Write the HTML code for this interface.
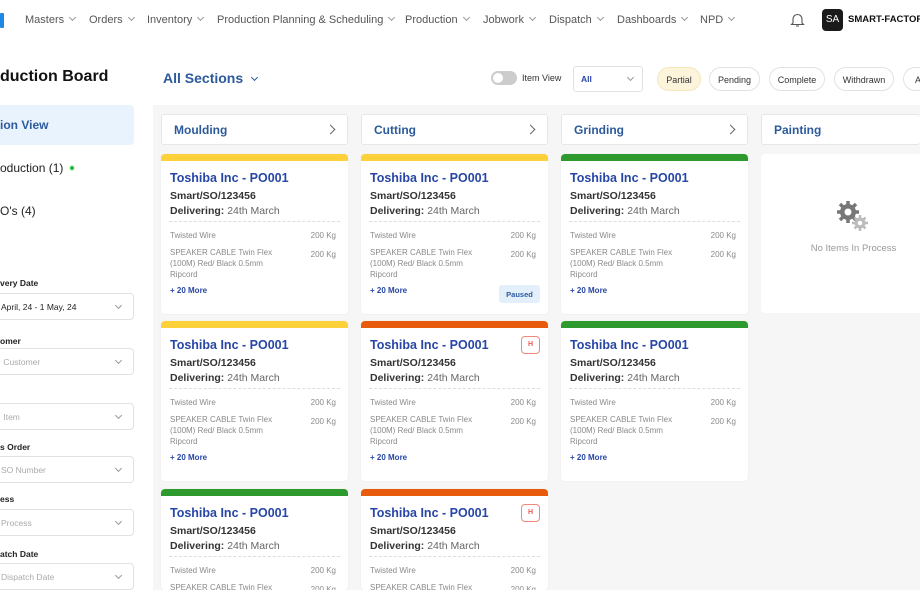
<!DOCTYPE html>
<html><head><meta charset="utf-8">
<style>
*{box-sizing:border-box;margin:0;padding:0}
html{width:920px;height:590px;overflow:hidden}
body{width:920px;height:590px;overflow:hidden;background:#fff;font-family:"Liberation Sans",sans-serif;position:relative;color:#222}
.a{position:absolute;white-space:nowrap}
.nav{font-size:11px;color:#555;top:14px}
.chev{display:inline-block;width:5px;height:5px;border-right:1px solid #999;border-bottom:1px solid #999;transform:rotate(45deg);margin-left:6px;position:relative;top:-3px}
.lbl{font-size:8.5px;font-weight:bold;color:#222;left:0}
.sel{left:-10px;width:144px;height:27px;border:1px solid #e2e2e2;border-radius:4px;font-size:8.5px;color:#aaa;padding:8px 0 0 10px}
.sel .chev{position:absolute;right:12px;top:9px}
.board{left:153px;top:105px;width:767px;height:485px;background:#f6f6f6}
.colh{top:114px;width:187px;height:31px;background:#fff;border:1px solid #e6e6e6;border-radius:3px;font-size:12px;font-weight:bold;color:#2c5a9c;padding:8px 0 0 12px}
.arr{position:absolute;right:13px;top:11px;width:7px;height:7px;border-right:1.3px solid #666;border-top:1.3px solid #666;transform:rotate(45deg)}
.card{width:187px;height:160px;background:#fff;border-radius:4px;overflow:hidden;box-shadow:0 0 1px #ddd}
.bar{height:7px}
.t{position:absolute;left:9px;top:17px;font-size:12.5px;font-weight:bold;color:#2746a6}
.s{position:absolute;left:9px;font-size:10.5px;font-weight:bold;color:#333}
.s span{font-weight:normal;color:#666}
.dash{position:absolute;left:8px;right:8px;top:67px;border-top:1px dashed #ddd}
.g{position:absolute;left:9px;font-size:8px;color:#8a8a8a;line-height:11px}
.kg{position:absolute;right:12px;font-size:8px;color:#8a8a8a}
.more{position:absolute;left:9px;top:132px;font-size:8px;font-weight:bold;color:#2746a6}
.pill{top:67px;height:24px;border:1px solid #e2e2e2;border-radius:12px;font-size:9px;color:#333;text-align:center;padding-top:7px}
</style></head><body>
<div class="a" style="left:0;top:13px;width:4px;height:15px;background:#1e88e5;border-radius:1px"></div>
<div class="a nav" style="left:25px">Masters<i class="chev"></i></div>
<div class="a nav" style="left:89px">Orders<i class="chev"></i></div>
<div class="a nav" style="left:147px">Inventory<i class="chev"></i></div>
<div class="a nav" style="left:217px">Production Planning &amp; Scheduling<i class="chev"></i></div>
<div class="a nav" style="left:405px">Production<i class="chev"></i></div>
<div class="a nav" style="left:483px">Jobwork<i class="chev"></i></div>
<div class="a nav" style="left:549px">Dispatch<i class="chev"></i></div>
<div class="a nav" style="left:617px">Dashboards<i class="chev"></i></div>
<div class="a nav" style="left:700px">NPD<i class="chev"></i></div>
<svg class="a" style="left:790px;top:12px" width="15" height="16" viewBox="0 0 15 16"><path d="M3 11V7a4.5 4.5 0 0 1 9 0v4l1.5 1.5h-12z" fill="none" stroke="#555" stroke-width="1.1"/><path d="M6 14h3" stroke="#555"/></svg>
<div class="a" style="left:822px;top:9px;width:21px;height:22px;background:#1a1a1a;border-radius:4px;color:#fff;font-size:10px;text-align:center;padding-top:5px">SA</div>
<div class="a" style="left:848px;top:14px;font-size:9.5px;font-weight:bold;color:#111">SMART-FACTORY</div>

<div class="a" style="left:0;top:68px;font-size:16px;font-weight:bold;color:#111">duction Board</div>
<div class="a" style="left:-10px;top:105px;width:144px;height:40px;background:#e8f3fd;border-radius:4px"></div>
<div class="a" style="left:0;top:118px;font-size:12px;font-weight:bold;color:#2c5a9c">ion View</div>
<div class="a" style="left:0;top:161px;font-size:12px;color:#222">oduction (1)</div>
<div class="a" style="left:70px;top:166px;width:4px;height:4px;border-radius:2px;background:#22bb44;box-shadow:0 0 3px #9e9"></div>
<div class="a" style="left:0;top:204px;font-size:12px;color:#222">O's (4)</div>

<div class="a lbl" style="top:278px">very Date</div>
<div class="a sel" style="top:293px;color:#222">April, 24 - 1 May, 24<i class="chev"></i></div>
<div class="a lbl" style="top:336px">omer</div>
<div class="a sel" style="top:348px">&nbsp;Customer<i class="chev"></i></div>
<div class="a sel" style="top:403px">&nbsp;Item<i class="chev"></i></div>
<div class="a lbl" style="top:442px">s Order</div>
<div class="a sel" style="top:456px">SO Number<i class="chev"></i></div>
<div class="a lbl" style="top:494px">ess</div>
<div class="a sel" style="top:509px">Process<i class="chev"></i></div>
<div class="a lbl" style="top:549px">atch Date</div>
<div class="a sel" style="top:563px">Dispatch Date<i class="chev"></i></div>

<div class="a" style="left:163px;top:70px;font-size:14px;font-weight:bold;color:#2c5a9c">All Sections<i class="chev" style="border-color:#2c5a9c;margin-left:9px"></i></div>
<div class="a" style="left:491px;top:71px;width:26px;height:14px;border-radius:7px;background:#ccc"></div>
<div class="a" style="left:493px;top:73px;width:10px;height:10px;border-radius:5px;background:#fff"></div>
<div class="a" style="left:522px;top:73px;font-size:9px;color:#333">Item View</div>
<div class="a" style="left:573px;top:66px;width:70px;height:26px;border:1px solid #e2e2e2;border-radius:3px;font-size:8.5px;font-weight:bold;color:#2746a6;padding:7px 0 0 7px">All<i class="chev" style="position:absolute;right:9px;top:8px"></i></div>
<div class="a pill" style="left:657px;width:44px;background:#fdf4dc;border-color:#f5e6bb">Partial</div>
<div class="a pill" style="left:709px;width:51px">Pending</div>
<div class="a pill" style="left:769px;width:56px">Complete</div>
<div class="a pill" style="left:834px;width:60px">Withdrawn</div>
<div class="a pill" style="left:903px;width:17px;text-align:left;padding-left:11px;border-right:none;border-radius:12px 0 0 12px">A</div>

<div class="a board"></div>
<div class="a colh" style="left:161px">Moulding<i class="arr"></i></div>
<div class="a colh" style="left:361px">Cutting<i class="arr"></i></div>
<div class="a colh" style="left:561px">Grinding<i class="arr"></i></div>
<div class="a colh" style="left:761px;width:159px;border-right:none">Painting</div>

<div class="a" style="left:761px;top:154px;width:159px;height:159px;background:#fff;border-radius:4px 0 0 4px"></div>
<svg class="a" style="left:836px;top:200px" width="34" height="34" viewBox="0 0 34 34">
<g fill="#777"><circle cx="12" cy="12" r="8"/><g stroke="#777" stroke-width="3.5"><path d="M12 1v22M1 12h22M4 4l16 16M20 4L4 20"/></g></g><circle cx="12" cy="12" r="3.5" fill="#fff"/>
<g fill="#bbb"><circle cx="24" cy="23" r="5.5"/><g stroke="#bbb" stroke-width="2.5"><path d="M24 15v16M16 23h16M18.5 17.5l11 11M29.5 17.5l-11 11"/></g></g><circle cx="24" cy="23" r="2.3" fill="#fff"/></svg>
<div class="a" style="left:761px;top:243px;width:185px;text-align:center;font-size:9.5px;color:#999">No Items In Process</div>

<div id="cards"></div>
<script>
var cols=[[161,['#fdd13a','#fdd13a','#2e9a2e']],[361,['#fdd13a','#e85a0c','#e85a0c']],[561,['#2e9a2e','#2e9a2e']]];
var tops=[154,321,489],h='';
cols.forEach(function(c,ci){c[1].forEach(function(col,ri){
var extra='';
if(ci==1&&ri==0)extra='<div class="a" style="left:138px;top:131px;width:41px;height:18px;background:#e3f0fb;border-radius:3px;font-size:7.5px;font-weight:bold;color:#2c5a9c;text-align:center;padding-top:5px">Paused</div>';
if(ci==1&&ri>0)extra='<div class="a" style="left:160px;top:15px;width:19px;height:18px;border:1px solid #f08878;border-radius:4px;font-size:7px;font-weight:bold;color:#e55;text-align:center;padding-top:4px">H</div>';
var hh=ri==2?101:160;
h+='<div class="a card" style="left:'+c[0]+'px;top:'+tops[ri]+'px;height:'+hh+'px"><div class="bar" style="background:'+col+'"></div>'+
'<div class="t">Toshiba Inc - PO001</div><div class="s" style="top:36px">Smart/SO/123456</div>'+
'<div class="s" style="top:51px">Delivering: <span>24th March</span></div><div class="dash"></div>'+
'<div class="g" style="top:76px">Twisted Wire</div><div class="kg" style="top:77px">200 Kg</div>'+
'<div class="g" style="top:93px">SPEAKER CABLE Twin Flex<br>(100M) Red/ Black 0.5mm<br>Ripcord</div><div class="kg" style="top:96px">200 Kg</div>'+
'<div class="more">+ 20 More</div>'+extra+'</div>';
});});
document.getElementById('cards').innerHTML=h;
</script>
</body></html>
